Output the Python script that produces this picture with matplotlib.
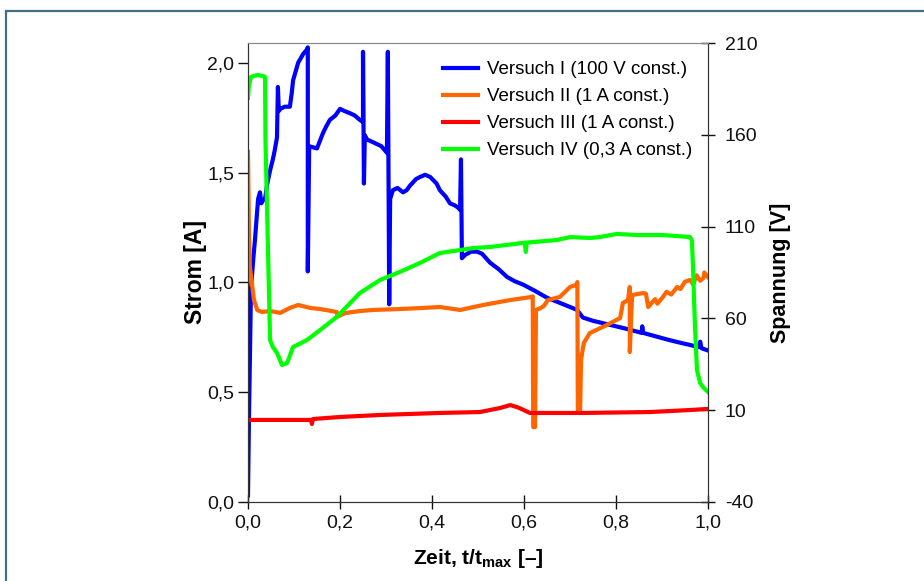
import numpy as np
import matplotlib
matplotlib.use('Agg')
import matplotlib.pyplot as plt
from matplotlib.patches import Rectangle
from matplotlib.ticker import FuncFormatter

plt.rcParams['font.family'] = ['Liberation Sans', 'DejaVu Sans']
plt.rcParams['mathtext.fontset'] = 'custom'
plt.rcParams['mathtext.rm'] = 'Liberation Sans'
plt.rcParams['mathtext.bf'] = 'Liberation Sans:bold'
plt.rcParams['axes.unicode_minus'] = False

# Versuch I: Strom [A] ueber t/tmax
t_1 = [0.0, 0.002, 0.0065, 0.012, 0.015, 0.019, 0.022, 0.026, 0.029, 0.033, 0.037, 0.042,
       0.048, 0.054, 0.058, 0.063, 0.065, 0.067, 0.07, 0.08, 0.091, 0.095, 0.098, 0.109,
       0.12, 0.128, 0.13, 0.13, 0.133, 0.15, 0.163, 0.17, 0.178, 0.19, 0.2, 0.21, 0.222,
       0.232, 0.243, 0.25, 0.25, 0.252, 0.254, 0.259, 0.27, 0.28, 0.29, 0.302, 0.304,
       0.307, 0.309, 0.315, 0.325, 0.337, 0.345, 0.352, 0.365, 0.374, 0.385, 0.396, 0.41,
       0.417, 0.43, 0.439, 0.45, 0.457, 0.461, 0.463, 0.465, 0.472, 0.485, 0.498, 0.509,
       0.526, 0.545, 0.563, 0.58, 0.598, 0.625, 0.65, 0.68, 0.715, 0.728, 0.75, 0.78,
       0.82, 0.856, 0.857, 0.859, 0.885, 0.911, 0.94, 0.961, 0.98, 0.983, 0.986, 1.0]
i_1 = [0.03, 0.37, 0.97, 1.12, 1.19, 1.30, 1.38, 1.41, 1.36, 1.375, 1.38, 1.45,
       1.51, 1.56, 1.60, 1.66, 1.89, 1.78, 1.79, 1.80, 1.80, 1.86, 1.92, 2.0,
       2.04, 2.06, 2.07, 1.05, 1.62, 1.61, 1.68, 1.71, 1.74, 1.76, 1.79, 1.78, 1.77,
       1.76, 1.74, 1.73, 2.05, 1.45, 1.67, 1.65, 1.64, 1.63, 1.62, 1.59, 2.05,
       0.90, 1.38, 1.42, 1.43, 1.41, 1.42, 1.44, 1.47, 1.48, 1.49, 1.48, 1.45,
       1.42, 1.39, 1.36, 1.35, 1.34, 1.33, 1.56, 1.11, 1.125, 1.14, 1.14, 1.13,
       1.09, 1.06, 1.025, 1.005, 0.99, 0.96, 0.93, 0.905, 0.875, 0.84, 0.825, 0.81,
       0.79, 0.77, 0.80, 0.77, 0.755, 0.74, 0.725, 0.715, 0.705, 0.73, 0.70, 0.69]

# Versuch II: Spannung [V]
t_2 = [0.0, 0.002, 0.004, 0.009, 0.013, 0.02, 0.03, 0.048, 0.07, 0.091, 0.109, 0.135,
       0.157, 0.193, 0.195, 0.211, 0.243, 0.272, 0.33, 0.38, 0.417, 0.461, 0.511, 0.57,
       0.617, 0.619, 0.62, 0.624, 0.626, 0.635, 0.643, 0.652, 0.678, 0.7, 0.713, 0.716,
       0.717, 0.722, 0.724, 0.73, 0.743, 0.78, 0.809, 0.815, 0.826, 0.83, 0.83, 0.835,
       0.859, 0.865, 0.87, 0.885, 0.89, 0.902, 0.91, 0.92, 0.933, 0.94, 0.95, 0.961,
       0.968, 0.975, 0.983, 0.99, 0.992, 1.0]
u_2 = [150.6, 108.1, 88.0, 78.2, 70.0, 64.6, 63.5, 64.0, 63.0, 65.7, 67.3, 65.7,
       65.1, 63.5, 61.0, 62.9, 64.0, 64.6, 65.1, 65.7, 66.2, 64.6, 67.3, 70.0,
       71.7, 72.0, 0.8, 0.8, 64.6, 65.5, 66.7, 70.0, 71.7, 77.1, 78.2, 79.8,
       10.1, 10.1, 37.3, 46.6, 52.0, 56.4, 60.2, 68.4, 70.0, 77.1, 41.7, 72.7,
       73.8, 73.5, 66.2, 70.5, 68.0, 71.7, 74.5, 73.0, 77.1, 76.0, 80.0, 80.9,
       78.5, 83.5, 80.5, 82.0, 85.0, 82.5]

# Versuch III: Spannung [V]
t_3 = [0.0, 0.004, 0.07, 0.137, 0.139, 0.141, 0.2, 0.287, 0.417, 0.504, 0.548, 0.57,
       0.587, 0.613, 0.728, 0.874, 0.961, 1.0]
u_3 = [4.1, 4.7, 4.7, 4.7, 2.5, 5.2, 6.3, 7.4, 8.5, 9.0, 11.2, 12.8,
       11.5, 8.5, 8.5, 9.0, 10.1, 10.7]

# Versuch IV: Spannung [V]
t_4 = [0.0, 0.002, 0.0065, 0.02, 0.033, 0.037, 0.038, 0.043, 0.048, 0.054, 0.063, 0.074,
       0.085, 0.098, 0.128, 0.157, 0.193, 0.243, 0.287, 0.33, 0.374, 0.417, 0.489, 0.526,
       0.598, 0.602, 0.604, 0.606, 0.672, 0.7, 0.743, 0.765, 0.802, 0.846, 0.902, 0.961,
       0.965, 0.967, 0.972, 0.976, 0.983, 0.989, 1.0]
u_4 = [180.0, 187.0, 191.5, 192.6, 192.0, 191.5, 157.0, 102.7, 48.2, 44.4, 41.2, 34.6,
       35.7, 44.4, 48.2, 53.7, 60.8, 73.8, 80.9, 85.3, 90.2, 95.6, 98.3, 98.9,
       101.1, 101.2, 96.2, 101.3, 102.7, 104.3, 103.8, 104.3, 106.0, 105.4, 105.4, 104.3,
       102.5, 90.2, 53.7, 31.9, 24.8, 22.6, 19.9]

x_ticks = [0.0, 0.2, 0.4, 0.6, 0.8, 1.0]
i_ticks = [0.0, 0.5, 1.0, 1.5, 2.0]
u_ticks = [-40, 10, 60, 110, 160, 210]

fig = plt.figure(figsize=(9.24, 5.81), dpi=100)
fig.patches.append(Rectangle((6 / 924, -0.1), 1.2, 1 - 11 / 581 + 0.1, transform=fig.transFigure,
                             fill=False, edgecolor='#41707f', linewidth=1.6))

ax = fig.add_axes([248 / 924, 1 - 502 / 581, 460 / 924, 459 / 581])
ax2 = ax.twinx()

lw = 3.0
l1, = ax.plot(t_1, i_1, color='#0000ff', lw=lw, label='Versuch I (100 V const.)')
l2, = ax2.plot(t_2, u_2, color='#ff6600', lw=lw, label='Versuch II (1 A const.)')
l3, = ax2.plot(t_3, u_3, color='#ff0000', lw=lw, label='Versuch III (1 A const.)')
l4, = ax2.plot(t_4, u_4, color='#00ff00', lw=lw, label='Versuch IV (0,3 A const.)')

ax.set_xlim(0, 1)
ax.set_ylim(0, 2.09)
ax2.set_ylim(-40, 210)

comma = FuncFormatter(lambda v, p: f'{v:.1f}'.replace('.', ','))
ax.set_xticks(x_ticks)
ax.xaxis.set_major_formatter(comma)
ax.set_yticks(i_ticks)
ax.yaxis.set_major_formatter(comma)
ax2.set_yticks(u_ticks)

for a in (ax, ax2):
    for s in ('left', 'right', 'bottom'):
        a.spines[s].set_color('#333333')
    a.spines['top'].set_color('#8a8a8a')

fs = 14
ax.tick_params(axis='y', direction='out', length=7, width=1, labelsize=fs, colors='#111111', pad=3)
ax.tick_params(axis='x', direction='inout', length=10, width=1, labelsize=fs, colors='#111111', pad=4)
ax2.tick_params(axis='y', direction='inout', length=10, width=1, labelsize=fs, colors='#111111', pad=7)

ax.set_ylabel('Strom [A]', fontsize=16.5, fontweight='bold', labelpad=0)
ax2.set_ylabel('Spannung [V]', fontsize=15.5, fontweight='bold', labelpad=9)
ax.set_xlabel(r'Zeit, t/t$_\mathbf{max}$ [–]', fontsize=15, fontweight='bold', labelpad=11)

ax2.legend(handles=[l1, l2, l3, l4], loc='upper left', bbox_to_anchor=(0.424, 0.96),
           frameon=False, fontsize=13.5, handlelength=1.87, handletextpad=0.48,
           labelspacing=0.52, borderaxespad=0, borderpad=0)

fig.savefig('out.png', dpi=100)
